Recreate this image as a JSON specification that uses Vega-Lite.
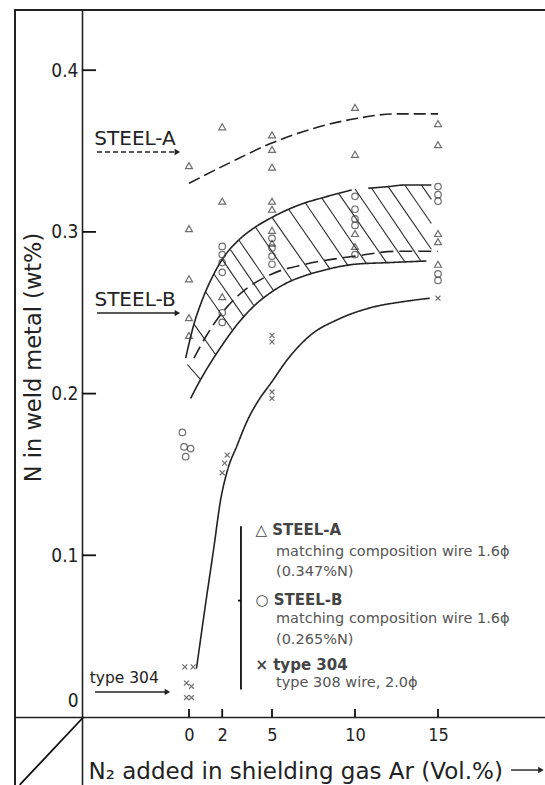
{
  "$schema": "https://vega.github.io/schema/vega-lite/v6.json",
  "width": 533,
  "height": 778,
  "autosize": {"type": "none"},
  "padding": {"left": 15, "top": 10, "right": 0, "bottom": 0},
  "background": "white",
  "config": {
    "view": {"stroke": "#222", "strokeWidth": 2},
    "font": "DejaVu Sans"
  },
  "datasets": {
    "points": [
      {"series": "STEEL-A", "x": 0, "y": 0.341}, {"series": "STEEL-A", "x": 0, "y": 0.302},
      {"series": "STEEL-A", "x": 0, "y": 0.271}, {"series": "STEEL-A", "x": 0, "y": 0.247},
      {"series": "STEEL-A", "x": 0, "y": 0.236},
      {"series": "STEEL-A", "x": 2, "y": 0.365}, {"series": "STEEL-A", "x": 2, "y": 0.319},
      {"series": "STEEL-A", "x": 2, "y": 0.26},
      {"series": "STEEL-A", "x": 5, "y": 0.36}, {"series": "STEEL-A", "x": 5, "y": 0.351},
      {"series": "STEEL-A", "x": 5, "y": 0.34}, {"series": "STEEL-A", "x": 5, "y": 0.319},
      {"series": "STEEL-A", "x": 5, "y": 0.314}, {"series": "STEEL-A", "x": 5, "y": 0.301},
      {"series": "STEEL-A", "x": 5, "y": 0.293},
      {"series": "STEEL-A", "x": 10, "y": 0.377}, {"series": "STEEL-A", "x": 10, "y": 0.348},
      {"series": "STEEL-A", "x": 10, "y": 0.299}, {"series": "STEEL-A", "x": 10, "y": 0.291},
      {"series": "STEEL-A", "x": 15, "y": 0.367}, {"series": "STEEL-A", "x": 15, "y": 0.354},
      {"series": "STEEL-A", "x": 15, "y": 0.299}, {"series": "STEEL-A", "x": 15, "y": 0.294},
      {"series": "STEEL-A", "x": 15, "y": 0.28},
      {"series": "STEEL-B", "x": -0.4, "y": 0.176}, {"series": "STEEL-B", "x": -0.3, "y": 0.167},
      {"series": "STEEL-B", "x": 0.1, "y": 0.166}, {"series": "STEEL-B", "x": -0.2, "y": 0.161},
      {"series": "STEEL-B", "x": 2, "y": 0.291}, {"series": "STEEL-B", "x": 2, "y": 0.286},
      {"series": "STEEL-B", "x": 2, "y": 0.281}, {"series": "STEEL-B", "x": 2, "y": 0.275},
      {"series": "STEEL-B", "x": 2, "y": 0.25}, {"series": "STEEL-B", "x": 2, "y": 0.244},
      {"series": "STEEL-B", "x": 5, "y": 0.296}, {"series": "STEEL-B", "x": 5, "y": 0.29},
      {"series": "STEEL-B", "x": 5, "y": 0.285}, {"series": "STEEL-B", "x": 5, "y": 0.28},
      {"series": "STEEL-B", "x": 10, "y": 0.322}, {"series": "STEEL-B", "x": 10, "y": 0.314},
      {"series": "STEEL-B", "x": 10, "y": 0.308}, {"series": "STEEL-B", "x": 10, "y": 0.304},
      {"series": "STEEL-B", "x": 10, "y": 0.286},
      {"series": "STEEL-B", "x": 15, "y": 0.328}, {"series": "STEEL-B", "x": 15, "y": 0.323},
      {"series": "STEEL-B", "x": 15, "y": 0.319}, {"series": "STEEL-B", "x": 15, "y": 0.274},
      {"series": "STEEL-B", "x": 15, "y": 0.27},
      {"series": "type 304", "x": -0.25, "y": 0.031}, {"series": "type 304", "x": 0.25, "y": 0.031},
      {"series": "type 304", "x": -0.15, "y": 0.021}, {"series": "type 304", "x": 0.15, "y": 0.019},
      {"series": "type 304", "x": -0.15, "y": 0.012}, {"series": "type 304", "x": 0.15, "y": 0.012},
      {"series": "type 304", "x": 2.3, "y": 0.162}, {"series": "type 304", "x": 2.15, "y": 0.157},
      {"series": "type 304", "x": 2, "y": 0.151},
      {"series": "type 304", "x": 5, "y": 0.236}, {"series": "type 304", "x": 5, "y": 0.232},
      {"series": "type 304", "x": 5, "y": 0.201}, {"series": "type 304", "x": 5, "y": 0.197},
      {"series": "type 304", "x": 15, "y": 0.259}
    ],
    "curves": [
      {"curve": "STEEL-A", "x": 0, "y": 0.330}, {"curve": "STEEL-A", "x": 2.5, "y": 0.343},
      {"curve": "STEEL-A", "x": 5, "y": 0.355}, {"curve": "STEEL-A", "x": 7.5, "y": 0.364},
      {"curve": "STEEL-A", "x": 10, "y": 0.370}, {"curve": "STEEL-A", "x": 12.5, "y": 0.373},
      {"curve": "STEEL-A", "x": 15, "y": 0.373},
      {"curve": "upper", "x": -0.2, "y": 0.222}, {"curve": "upper", "x": 0.3, "y": 0.243},
      {"curve": "upper", "x": 0.8, "y": 0.258}, {"curve": "upper", "x": 1.5, "y": 0.274},
      {"curve": "upper", "x": 2, "y": 0.283}, {"curve": "upper", "x": 3, "y": 0.295},
      {"curve": "upper", "x": 4, "y": 0.303}, {"curve": "upper", "x": 5, "y": 0.309},
      {"curve": "upper", "x": 6, "y": 0.314}, {"curve": "upper", "x": 7, "y": 0.318},
      {"curve": "upper", "x": 8, "y": 0.321}, {"curve": "upper", "x": 9.8, "y": 0.326},
      {"curve": "upper right", "x": 10.8, "y": 0.327}, {"curve": "upper right", "x": 12, "y": 0.328},
      {"curve": "upper right", "x": 13, "y": 0.329}, {"curve": "upper right", "x": 14.6, "y": 0.329},
      {"curve": "lower", "x": 0.1, "y": 0.197}, {"curve": "lower", "x": 0.5, "y": 0.205},
      {"curve": "lower", "x": 1, "y": 0.214}, {"curve": "lower", "x": 2, "y": 0.23},
      {"curve": "lower", "x": 3, "y": 0.244}, {"curve": "lower", "x": 4, "y": 0.255},
      {"curve": "lower", "x": 5, "y": 0.263}, {"curve": "lower", "x": 6, "y": 0.269},
      {"curve": "lower", "x": 7, "y": 0.273}, {"curve": "lower", "x": 8, "y": 0.276},
      {"curve": "lower", "x": 10, "y": 0.28}, {"curve": "lower", "x": 12, "y": 0.281},
      {"curve": "lower", "x": 14.3, "y": 0.282},
      {"curve": "inner", "x": 0.3, "y": 0.222}, {"curve": "inner", "x": 1, "y": 0.235},
      {"curve": "inner", "x": 2, "y": 0.25}, {"curve": "inner", "x": 3, "y": 0.261},
      {"curve": "inner", "x": 5, "y": 0.274}, {"curve": "inner", "x": 7, "y": 0.28},
      {"curve": "inner", "x": 10, "y": 0.285}, {"curve": "inner", "x": 12.5, "y": 0.288},
      {"curve": "inner", "x": 15, "y": 0.288},
      {"curve": "type 304", "x": 0.45, "y": 0.03}, {"curve": "type 304", "x": 1, "y": 0.07},
      {"curve": "type 304", "x": 1.5, "y": 0.105}, {"curve": "type 304", "x": 1.9, "y": 0.134},
      {"curve": "type 304", "x": 2.3, "y": 0.152}, {"curve": "type 304", "x": 2.9, "y": 0.168},
      {"curve": "type 304", "x": 3.5, "y": 0.183}, {"curve": "type 304", "x": 4.2, "y": 0.196},
      {"curve": "type 304", "x": 4.9, "y": 0.206}, {"curve": "type 304", "x": 6, "y": 0.222},
      {"curve": "type 304", "x": 7.3, "y": 0.236}, {"curve": "type 304", "x": 9, "y": 0.246},
      {"curve": "type 304", "x": 10.9, "y": 0.253}, {"curve": "type 304", "x": 13, "y": 0.257},
      {"curve": "type 304", "x": 14.5, "y": 0.259}
    ],
    "hatch": [
      {"x": -0.1, "y": 0.218, "x2": 0.7, "y2": 0.2086},
      {"x": 0.3, "y": 0.243, "x2": 1.62, "y2": 0.2239},
      {"x": 1.0, "y": 0.263, "x2": 2.6, "y2": 0.2395},
      {"x": 1.5, "y": 0.274, "x2": 3.3, "y2": 0.2476},
      {"x": 2.0, "y": 0.283, "x2": 3.9, "y2": 0.2545},
      {"x": 2.5, "y": 0.289, "x2": 4.5, "y2": 0.259},
      {"x": 3.0, "y": 0.295, "x2": 5.1, "y2": 0.2636},
      {"x": 4.0, "y": 0.303, "x2": 6.2, "y2": 0.2698},
      {"x": 5.0, "y": 0.309, "x2": 7.35, "y2": 0.2745},
      {"x": 6.0, "y": 0.314, "x2": 8.5, "y2": 0.277},
      {"x": 7.0, "y": 0.318, "x2": 9.6, "y2": 0.2788},
      {"x": 8.0, "y": 0.321, "x2": 10.7, "y2": 0.2802},
      {"x": 9.0, "y": 0.324, "x2": 11.9, "y2": 0.281},
      {"x": 10.0, "y": 0.3265, "x2": 13.0, "y2": 0.2815},
      {"x": 11.0, "y": 0.327, "x2": 14.0, "y2": 0.2815},
      {"x": 12.0, "y": 0.328, "x2": 14.6, "y2": 0.2893},
      {"x": 13.0, "y": 0.329, "x2": 14.6, "y2": 0.3052},
      {"x": 14.0, "y": 0.329, "x2": 14.6, "y2": 0.3201}
    ],
    "arrows": [
      {"arrow": "STEEL-A", "x": -5.54, "x2": -0.7, "y": 0.3494, "y2": 0.3494},
      {"arrow": "STEEL-B", "x": -5.54, "x2": -0.7, "y": 0.2498, "y2": 0.2498},
      {"arrow": "type 304", "x": -5.66, "x2": -1.3, "y": 0.0155, "y2": 0.0155},
      {"arrow": "axis", "x": 19.4, "x2": 21.2, "y": -0.0328, "y2": -0.0328}
    ],
    "frame": [
      {"part": "corner", "x": -6.35, "x2": -10.2, "y": 0, "y2": -0.042},
      {"part": "brace", "x": 3.13, "x2": 3.13, "y": 0.118, "y2": 0.017},
      {"part": "brace tip", "x": 2.95, "x2": 3.13, "y": 0.072, "y2": 0.072},
      {"part": "y tick", "x": -6.45, "x2": -5.6, "y": 0.1, "y2": 0.1},
      {"part": "y tick", "x": -6.45, "x2": -5.6, "y": 0.2, "y2": 0.2},
      {"part": "y tick", "x": -6.45, "x2": -5.6, "y": 0.3, "y2": 0.3},
      {"part": "y tick", "x": -6.45, "x2": -5.6, "y": 0.4, "y2": 0.4},
      {"part": "x tick", "x": 0, "x2": 0, "y": 0, "y2": 0.005},
      {"part": "x tick", "x": 2, "x2": 2, "y": 0, "y2": 0.005},
      {"part": "x tick", "x": 5, "x2": 5, "y": 0, "y2": 0.005},
      {"part": "x tick", "x": 10, "x2": 10, "y": 0, "y2": 0.005},
      {"part": "x tick", "x": 15, "x2": 15, "y": 0, "y2": 0.005}
    ],
    "tags": [
      {"x": -3.25, "y": 0.3575, "label": "STEEL-A"},
      {"x": -3.25, "y": 0.2579, "label": "STEEL-B"},
      {"x": -3.9, "y": 0.0241, "label": "type 304"}
    ],
    "legendHeads": [
      {"x": 4.0, "y": 0.1156, "label": "△ STEEL-A"},
      {"x": 4.0, "y": 0.0724, "label": "○ STEEL-B"},
      {"x": 4.0, "y": 0.0322, "label": "× type 304"}
    ],
    "legendBody": [
      {"x": 5.24, "y": 0.102, "label": "matching composition wire 1.6ϕ"},
      {"x": 5.24, "y": 0.0897, "label": "(0.347%N)"},
      {"x": 5.24, "y": 0.0606, "label": "matching composition wire 1.6ϕ"},
      {"x": 5.24, "y": 0.0476, "label": "(0.265%N)"},
      {"x": 5.24, "y": 0.021, "label": "type 308 wire, 2.0ϕ"}
    ]
  },
  "encoding": {
    "x": {
      "field": "x",
      "type": "quantitative",
      "scale": {"domain": [-10.482, 21.626], "nice": false, "zero": false},
      "axis": {
        "values": [0, 2, 5, 10, 15],
        "offset": -71,
        "grid": false,
        "ticks": false,
        "domainColor": "#222",
        "domainWidth": 1.6,
        "labelPadding": 9,
        "labelFont": "DejaVu Sans Condensed",
        "labelFontSize": 18,
        "labelColor": "#222",
        "title": "N₂ added in shielding gas Ar (Vol.%)",
        "titleFont": "DejaVu Sans",
        "titleFontSize": 23,
        "titleFontWeight": "normal",
        "titleColor": "#222",
        "titleAnchor": "start",
        "titleAlign": "left",
        "titleBaseline": "middle",
        "titleX": 73,
        "titleY": 54
      }
    },
    "y": {
      "field": "y",
      "type": "quantitative",
      "scale": {"domain": [-0.04391, 0.43723], "nice": false, "zero": false},
      "axis": {
        "values": [0, 0.1, 0.2, 0.3, 0.4],
        "labelExpr": "datum.value == 0 ? '0' : format(datum.value, '.1f')",
        "offset": -67,
        "grid": false,
        "ticks": false,
        "domainColor": "#222",
        "domainWidth": 1.6,
        "labelPadding": 4,
        "labelOffset": {"condition": {"test": "datum.value == 0", "value": -16}, "value": 0},
        "labelFont": "DejaVu Sans Condensed",
        "labelFontSize": 19,
        "labelColor": "#222",
        "title": "N in weld metal (wt%)",
        "titleFont": "DejaVu Sans",
        "titleFontSize": 22.5,
        "titleFontWeight": "normal",
        "titleColor": "#222",
        "titleAngle": -90,
        "titleAlign": "center",
        "titleBaseline": "middle",
        "titleX": -49,
        "titleY": 347
      }
    }
  },
  "layer": [
    {
      "data": {"name": "hatch"},
      "mark": {"type": "rule", "stroke": "#2a2a2a", "strokeWidth": 1.1},
      "encoding": {"x2": {"field": "x2"}, "y2": {"field": "y2"}}
    },
    {
      "data": {"name": "curves"},
      "mark": {"type": "line", "interpolate": "monotone", "stroke": "#222", "strokeWidth": 1.6},
      "encoding": {
        "detail": {"field": "curve"},
        "order": {"field": "x", "type": "quantitative"},
        "strokeDash": {
          "field": "curve",
          "type": "nominal",
          "scale": {
            "domain": ["STEEL-A", "upper", "upper right", "lower", "inner", "type 304"],
            "range": [[12, 5], [1, 0], [1, 0], [1, 0], [13, 6], [1, 0]]
          },
          "legend": null
        }
      }
    },
    {
      "data": {"name": "points"},
      "transform": [{"filter": "datum.series == 'STEEL-A'"}],
      "mark": {"type": "point", "shape": "triangle-up", "size": 48, "filled": false, "stroke": "#333", "strokeWidth": 1.2}
    },
    {
      "data": {"name": "points"},
      "transform": [{"filter": "datum.series == 'STEEL-B'"}],
      "mark": {"type": "point", "shape": "circle", "size": 42, "filled": false, "stroke": "#333", "strokeWidth": 1.2}
    },
    {
      "data": {"name": "points"},
      "transform": [{"filter": "datum.series == 'type 304'"}],
      "mark": {"type": "point", "shape": "M -1 -1 L 1 1 M -1 1 L 1 -1", "size": 24, "filled": false, "stroke": "#333", "strokeWidth": 1.2}
    },
    {
      "data": {"name": "arrows"},
      "transform": [{"filter": "datum.arrow == 'STEEL-A'"}],
      "mark": {"type": "rule", "stroke": "#222", "strokeWidth": 1.6, "strokeDash": [5, 3], "clip": false},
      "encoding": {"x2": {"field": "x2"}, "y2": {"field": "y2"}}
    },
    {
      "data": {"name": "arrows"},
      "transform": [{"filter": "datum.arrow != 'STEEL-A'"}],
      "mark": {"type": "rule", "stroke": "#222", "strokeWidth": 1.4, "clip": false},
      "encoding": {"x2": {"field": "x2"}, "y2": {"field": "y2"}}
    },
    {
      "data": {"name": "arrows"},
      "mark": {"type": "point", "shape": "triangle-right", "size": 40, "filled": true, "fill": "#222", "opacity": 1, "clip": false},
      "encoding": {"x": {"field": "x2", "type": "quantitative"}}
    },
    {
      "data": {"name": "frame"},
      "mark": {"type": "rule", "stroke": "#111", "strokeWidth": 1.8, "clip": false},
      "encoding": {"x2": {"field": "x2"}, "y2": {"field": "y2"}}
    },
    {
      "data": {"name": "tags"},
      "transform": [{"filter": "datum.label != 'type 304'"}],
      "mark": {"type": "text", "font": "DejaVu Sans", "fontSize": 20, "fill": "#222", "align": "center", "baseline": "middle"},
      "encoding": {"text": {"field": "label"}}
    },
    {
      "data": {"name": "tags"},
      "transform": [{"filter": "datum.label == 'type 304'"}],
      "mark": {"type": "text", "font": "DejaVu Sans", "fontSize": 15.5, "fill": "#222", "align": "center", "baseline": "middle"},
      "encoding": {"text": {"field": "label"}}
    },
    {
      "data": {"name": "legendHeads"},
      "mark": {"type": "text", "font": "DejaVu Sans", "fontSize": 15, "fontWeight": "bold", "fill": "#444", "align": "left", "baseline": "middle"},
      "encoding": {"text": {"field": "label"}}
    },
    {
      "data": {"name": "legendBody"},
      "mark": {"type": "text", "font": "DejaVu Sans", "fontSize": 14.5, "fill": "#555", "align": "left", "baseline": "middle"},
      "encoding": {"text": {"field": "label"}}
    }
  ]
}
